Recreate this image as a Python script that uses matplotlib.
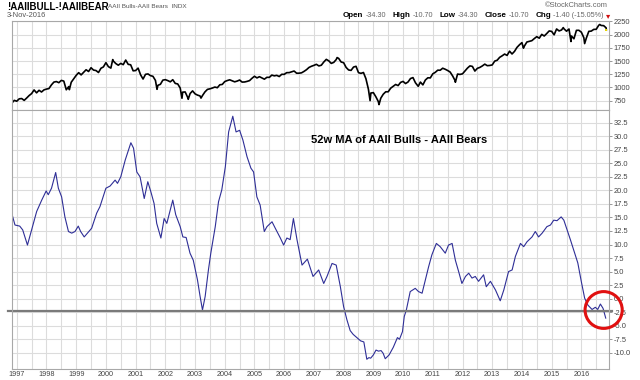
import numpy as np
import matplotlib
matplotlib.use("Agg")
import matplotlib.pyplot as plt
from matplotlib.patches import Ellipse

plt.rcParams['font.family'] = ['Liberation Sans', 'DejaVu Sans']
plt.rcParams['axes.unicode_minus'] = False

# ---- S&P 500 (top panel), monthly closes Nov 1996 .. Oct 2016 ----
spx_monthly = [
    757, 741,
    786, 791, 757, 801, 848, 885, 954, 899, 947, 915, 955, 970,
    980, 1049, 1102, 1112, 1091, 1134, 1121, 957, 1017, 1099, 1164, 1229,
    1280, 1238, 1286, 1335, 1302, 1373, 1329, 1320, 1283, 1363, 1389, 1469,
    1394, 1366, 1499, 1452, 1421, 1455, 1431, 1518, 1437, 1429, 1315, 1320,
    1366, 1240, 1160, 1249, 1256, 1224, 1211, 1134, 1041, 1060, 1139, 1148,
    1130, 1107, 1147, 1077, 1067, 990, 912, 916, 815, 886, 936, 880,
    856, 841, 848, 917, 964, 975, 990, 1008, 996, 1051, 1058, 1112,
    1131, 1145, 1126, 1107, 1121, 1141, 1102, 1104, 1115, 1130, 1174, 1212,
    1181, 1204, 1181, 1157, 1192, 1191, 1234, 1220, 1229, 1207, 1249, 1248,
    1280, 1281, 1295, 1311, 1270, 1270, 1277, 1304, 1336, 1378, 1401, 1418,
    1438, 1407, 1421, 1482, 1531, 1503, 1455, 1474, 1527, 1549, 1481, 1468,
    1379, 1331, 1323, 1386, 1400, 1280, 1267, 1283, 1166, 969, 896, 903,
    826, 735, 798, 873, 919, 919, 987, 1021, 1057, 1036, 1096, 1115,
    1074, 1104, 1169, 1187, 1089, 1031, 1102, 1049, 1141, 1183, 1181, 1258,
    1286, 1327, 1326, 1364, 1345, 1321, 1292, 1219, 1131, 1253, 1247, 1258,
    1312, 1366, 1408, 1398, 1310, 1362, 1379, 1407, 1441, 1412, 1416, 1426,
    1498, 1515, 1569, 1598, 1631, 1606, 1686, 1633, 1682, 1757, 1806, 1848,
    1783, 1859, 1872, 1884, 1924, 1960, 1931, 2003, 1972, 2018, 2068, 2059,
    1995, 2105, 2068, 2086, 2107, 2063, 2104, 1972, 1920, 2079, 2080, 2044,
    1940, 1932, 2060, 2065, 2097, 2099, 2174, 2171, 2168, 2126,
]
spx_first = (1996.833, 705)
spx_last = (2016.84, 2088)
# intra-month highs / lows visible on the chart
spx_extra_t = [1998.77, 2000.23, 2001.72, 2002.56, 2002.77, 2003.20, 2007.78,
               2008.89, 2009.19, 2010.51, 2011.76, 2014.05, 2015.39, 2015.65,
               2016.11, 2016.62]
spx_extra_v = [959, 1527, 966, 797, 777, 800, 1565,
               752, 677, 1022, 1099, 1742, 2131, 1868,
               1829, 2190]

# ---- 52w MA of AAII bulls - bears (bottom panel) ----
aaii_t = [
    1996.83, 1996.94, 1997.10, 1997.20, 1997.36, 1997.56, 1997.67, 1997.84, 1997.99,
    1998.06, 1998.17, 1998.31, 1998.40, 1998.51, 1998.62, 1998.74, 1998.85, 1998.96,
    1999.07, 1999.15, 1999.27, 1999.38, 1999.52, 1999.69, 1999.80, 2000.00, 2000.14,
    2000.31, 2000.39, 2000.50, 2000.65, 2000.84, 2000.93, 2001.04, 2001.15, 2001.29,
    2001.41, 2001.51, 2001.62, 2001.71, 2001.85, 2001.96, 2002.05, 2002.25, 2002.35,
    2002.50, 2002.59, 2002.70, 2002.83, 2002.94, 2003.08, 2003.17, 2003.25, 2003.34,
    2003.45, 2003.53, 2003.68, 2003.79, 2003.90, 2004.02, 2004.13, 2004.27, 2004.38,
    2004.50, 2004.61, 2004.75, 2004.88, 2004.97, 2005.08, 2005.19, 2005.33, 2005.42,
    2005.59, 2005.70, 2005.87, 2005.98, 2006.09, 2006.20, 2006.31, 2006.43, 2006.60,
    2006.78, 2006.97, 2007.16, 2007.33, 2007.44, 2007.61, 2007.75, 2007.89, 2008.00,
    2008.11, 2008.22, 2008.32, 2008.57, 2008.68, 2008.78, 2008.85, 2008.91, 2009.00,
    2009.09, 2009.17, 2009.26, 2009.33, 2009.40, 2009.53, 2009.67, 2009.81, 2009.88,
    2009.98, 2010.04, 2010.11, 2010.24, 2010.41, 2010.52, 2010.64, 2010.86, 2010.97,
    2011.12, 2011.25, 2011.42, 2011.53, 2011.65, 2011.76, 2011.87, 2011.98, 2012.10,
    2012.21, 2012.32, 2012.43, 2012.54, 2012.71, 2012.80, 2012.94, 2013.11, 2013.27,
    2013.39, 2013.55, 2013.67, 2013.78, 2013.95, 2014.06, 2014.17, 2014.34, 2014.45,
    2014.56, 2014.68, 2014.84, 2014.96, 2015.07, 2015.18, 2015.32, 2015.41, 2015.52,
    2015.63, 2015.74, 2015.88, 2016.00, 2016.11, 2016.22, 2016.36, 2016.47, 2016.55,
    2016.64, 2016.73, 2016.82,
]
aaii_v = [
    15.8, 13.6, 13.4, 12.7, 9.9, 13.9, 16.1, 18.2, 19.9,
    19.2, 20.4, 23.3, 20.4, 18.8, 15.1, 12.4, 12.1, 12.4,
    13.4, 12.4, 11.4, 12.1, 13.0, 15.8, 17.0, 20.4, 20.8,
    21.9, 21.3, 22.5, 25.6, 28.8, 27.8, 23.4, 22.5, 18.5,
    21.6, 19.8, 17.6, 13.9, 11.2, 14.8, 13.9, 18.2, 15.5,
    13.3, 11.4, 11.3, 8.4, 7.1, 3.5, 0.4, -2.1, 0.4,
    5.3, 8.4, 13.3, 17.9, 20.1, 24.4, 30.8, 33.7, 30.8,
    31.1, 29.3, 26.2, 24.1, 23.4, 18.8, 17.3, 12.4, 13.3,
    14.2, 13.0, 11.2, 9.9, 11.2, 10.9, 14.8, 10.9, 6.2,
    7.3, 4.1, 5.3, 2.8, 4.1, 6.5, 6.2, 2.2, -1.5,
    -3.9, -5.9, -6.6, -7.8, -8.0, -11.2, -10.9, -11.0, -10.4,
    -9.5, -9.7, -9.6, -10.1, -11.1, -10.4, -9.0, -7.2, -7.5,
    -6.1, -3.3, -2.1, 1.3, 1.9, 1.3, 1.0, 5.9, 8.1,
    10.2, 9.6, 8.4, 9.9, 10.2, 7.1, 5.0, 2.8, 4.1,
    4.7, 3.8, 4.1, 3.2, 4.4, 2.2, 3.2, 1.6, -0.4,
    1.6, 5.0, 5.3, 7.8, 10.2, 9.6, 10.5, 11.4, 12.4,
    11.4, 12.1, 13.3, 13.6, 14.5, 14.4, 15.1, 14.5, 12.7,
    10.9, 9.0, 6.6, 3.1, 0.1, -1.2, -2.0, -1.6, -2.0,
    -1.0, -1.8, -3.6,
]
support_level = -2.3
years = list(range(1997, 2017))

# build the S&P series in time order
sp_t = [spx_first[0]] + list(1996 + 11 / 12 + np.arange(len(spx_monthly)) / 12) + spx_extra_t + [spx_last[0]]
sp_v = [spx_first[1]] + spx_monthly + spx_extra_v + [spx_last[1]]
order = np.argsort(sp_t)
sp_t = np.array(sp_t)[order]
sp_v = np.array(sp_v)[order]

W, H = 640, 380
fig = plt.figure(figsize=(6.4, 3.8), dpi=100)
fig.patch.set_facecolor('white')

x0, x1 = 11.7, 609.3
ax_top = fig.add_axes([x0 / W, 1 - 110 / H, (x1 - x0) / W, 89.5 / H])
ax_bot = fig.add_axes([x0 / W, 1 - 369 / H, (x1 - x0) / W, 259 / H], sharex=ax_top)

grid_c = '#dcdcdc'
frame_c = '#a8a8a8'
for ax in (ax_top, ax_bot):
    ax.set_xticks(years)
    ax.set_xticks([y + 0.5 for y in range(1996, 2017)], minor=True)
    ax.set_xlim(1996.83, 2016.94)
    ax.grid(True, which='both', axis='x', color=grid_c, lw=0.8)
    ax.grid(True, which='major', axis='y', color=grid_c, lw=0.8)
    ax.set_axisbelow(True)
    for s in ax.spines.values():
        s.set_color(frame_c)
        s.set_linewidth(0.8)
    ax.yaxis.tick_right()
    ax.tick_params(axis='y', which='both', direction='out', length=2, width=0.6,
                   color='#888888', labelsize=5.4, labelcolor='#444444', pad=1)
    ax.tick_params(axis='x', which='both', length=0)

# top panel
ax_top.plot(sp_t, sp_v, color='black', lw=1.2)
ax_top.plot(sp_t[-1], sp_v[-1], marker='s', ms=1.5, color='#e8d800', mew=0)
ax_top.set_ylim(575, 2265)
ax_top.set_yticks(np.arange(750, 2251, 250))
ax_top.tick_params(axis='x', labelbottom=False)

# bottom panel
ax_bot.plot(aaii_t, aaii_v, color='#2e2e96', lw=0.8)
ax_bot.axhline(support_level, color='#7a7a7a', lw=1.6, clip_on=False,
               xmin=-0.006, xmax=1.004)
ax_bot.set_ylim(-13.0, 34.85)
yt = np.arange(-10, 32.6, 2.5)
ax_bot.set_yticks(yt)
ax_bot.set_yticklabels([f"{v:.1f}" for v in yt])
ax_bot.set_xticklabels([str(y) for y in years])
ax_bot.tick_params(axis='x', labelsize=5.2, labelcolor='#444444', pad=1.5)
ax_bot.set_xlim(1996.83, 2016.94)

ax_bot.text(0.501, 0.884, "52w MA of AAII Bulls - AAII Bears", transform=ax_bot.transAxes,
            fontsize=8, fontweight='bold', ha='left', va='center')

circle = Ellipse((aaii_t[-1] - 0.07, support_level + 0.2), 1.25, 6.8, fill=False,
                 edgecolor='#e01010', lw=2.2, clip_on=False, zorder=5)
ax_bot.add_patch(circle)

# header
fig.text(7 / W, 1 - 6.5 / H, "!AAIIBULL-!AAIIBEAR", fontsize=7, fontweight='bold',
         va='center', ha='left')
fig.text(108 / W, 1 - 6.5 / H, "AAII Bulls-AAII Bears  INDX", fontsize=4.6,
         color='#555555', va='center', ha='left')
fig.text(7 / W, 1 - 15.5 / H, "3-Nov-2016", fontsize=5.4, color='#555555',
         va='center', ha='left')
fig.text(608 / W, 1 - 5.5 / H, "\u00a9StockCharts.com", fontsize=5.4, color='#666666',
         va='center', ha='right')

pieces = [("Open", True), ("-34.30", False), ("High", True), ("-10.70", False),
          ("Low", True), ("-34.30", False), ("Close", True), ("-10.70", False),
          ("Chg", True), ("-1.40 (-15.05%)", False)]
fig.canvas.draw()
rend = fig.canvas.get_renderer()
xp = 343
for i, (txt, bold) in enumerate(pieces):
    t = fig.text(xp / W, 1 - 15.5 / H, txt, fontsize=5.8 if bold else 5.2,
                 fontweight='bold' if bold else 'normal',
                 color='black' if bold else '#666666', va='center', ha='left')
    bb = t.get_window_extent(rend)
    xp = bb.x1 + (2.5 if bold else 6)
fig.text((xp - 4) / W, 1 - 15.5 / H, "\u25be", fontsize=6, color='#d01010',
         va='center', ha='left', family='DejaVu Sans')

fig.savefig("out.png", dpi=100)
